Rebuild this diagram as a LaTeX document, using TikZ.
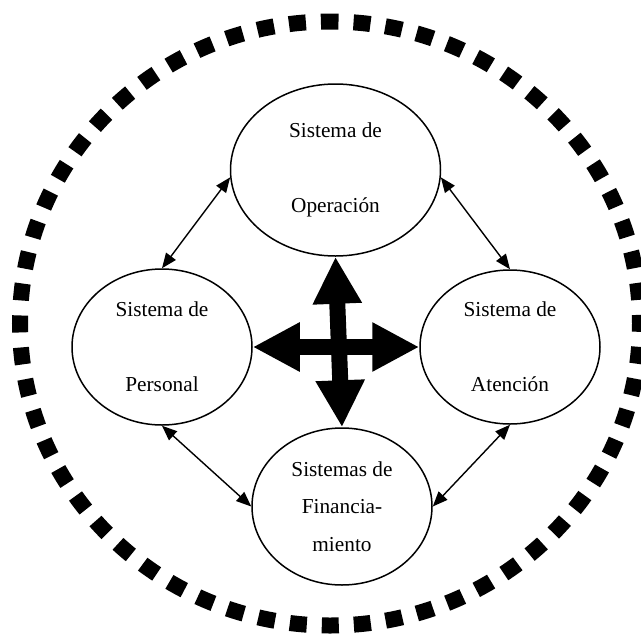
\documentclass[tikz,border=0pt]{standalone}
\usepackage{fontspec}
\setmainfont{Liberation Serif}
\usetikzlibrary{arrows.meta,shapes.geometric}
\begin{document}
\begin{tikzpicture}[x=1pt,y=-1pt,
  sistema/.style={ellipse, draw, line width=1.5pt, inner sep=0pt, align=center,
    font=\fontsize{21.3pt}{37.5pt}\selectfont},
  enlace/.style={line width=1.4pt,
    {Triangle[length=15pt,width=12pt]}-{Triangle[length=15pt,width=12pt]}},
  flujo/.style={line width=16pt, line cap=butt,
    {Triangle[length=47pt,width=46pt]}-{Triangle[length=47pt,width=46pt]}},
  contorno/.style={line width=16pt, line cap=butt,
    dash pattern=on 17pt off 15.04pt, dash phase=8.5pt}]
\useasboundingbox (0,0) rectangle (641,633);

% outer dashed boundary, started at the top
\draw[contorno] (330,21.5) arc[start angle=90, end angle=-270,
  x radius=310pt, y radius=302pt];

% the four systems
\node[sistema, minimum width=210pt, minimum height=172pt] (oper) at (335.5,170)
  {Sistema de\\[37.5pt]Operación};
\node[sistema, minimum width=180pt, minimum height=156pt] (pers) at (162,347)
  {Sistema de\\[37.5pt]Personal};
\node[sistema, minimum width=180pt, minimum height=154pt] (aten) at (510,347)
  {Sistema de\\[37.5pt]Atención};
\node[sistema, minimum width=180pt, minimum height=157pt] (fin) at (342,506.5)
  {Sistemas de\\Financia-\\miento};

% central block arrows
\draw[flujo] (pers.east) -- (aten.west);
\draw[flujo] (oper.south) -- (fin.north);

% thin two-way links around the ring
\draw[enlace] (oper.184) -- (pers.north);
\draw[enlace] (oper.356) -- (aten.north);
\draw[enlace] (pers.south) -- (fin.west);
\draw[enlace] (aten.south) -- (fin.east);
\end{tikzpicture}
\end{document}
